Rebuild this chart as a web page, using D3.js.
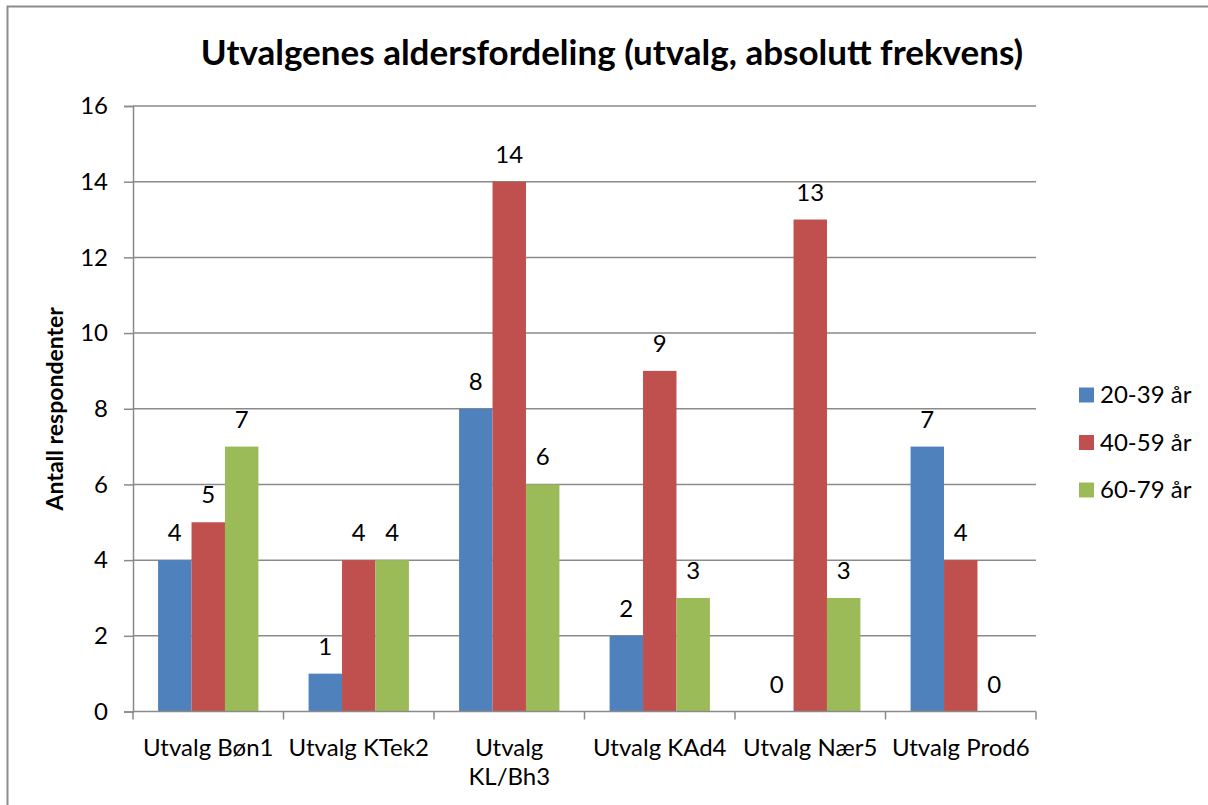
<!DOCTYPE html>
<html>
<head>
<meta charset="utf-8">
<script src="https://cdn.jsdelivr.net/npm/d3@7"></script>
<style>
    body { margin: 0; background: #fff; }
    svg text { font-family: Lato, "Open Sans", sans-serif; fill: #000; }
</style>
</head>
<body>
<svg id="chart" width="1208" height="805"></svg>
<script>
// chart data
const categories = ["Utvalg Bøn1", "Utvalg KTek2", "Utvalg KL/Bh3", "Utvalg KAd4", "Utvalg Nær5", "Utvalg Prod6"];
const seriesNames = ["20-39 år", "40-59 år", "60-79 år"];
const age20to39 = [4, 1, 8, 2, 0, 7];
const age40to59 = [5, 4, 14, 9, 13, 4];
const age60to79 = [7, 4, 6, 3, 3, 0];
const yTicks = [0, 2, 4, 6, 8, 10, 12, 14, 16];
const colors = ["#4F81BD", "#C0504D", "#9BBB59"];

const series = [age20to39, age40to59, age60to79];
const fontSize = "24px";

const svg = d3.select("#chart");

// outer frame (runs off the right/bottom edge like the screenshot)
svg.append("rect")
    .attr("x", 7.5).attr("y", 6.5)
    .attr("width", 1230).attr("height", 830)
    .attr("fill", "none").attr("stroke", "#8c8c8c").attr("stroke-width", 2);

const plot = {left: 133, right: 1036, top: 106, bottom: 711.5};

const x = d3.scaleBand().domain(categories).range([plot.left, plot.right]);
const bw = x.bandwidth();
const xs = d3.scaleBand().domain(d3.range(series.length))
    .range([bw / 6, bw * 5 / 6]);
const y = d3.scaleLinear().domain([0, 16]).range([plot.bottom, plot.top]);

// title
svg.append("text")
    .attr("x", 612).attr("y", 65)
    .attr("text-anchor", "middle")
    .style("font-size", "35px").style("font-weight", "bold")
    .text("Utvalgenes aldersfordeling (utvalg, absolutt frekvens)");

// gridlines
svg.append("g").selectAll("line")
    .data(yTicks.filter(d => d > 0))
    .join("line")
    .attr("x1", plot.left).attr("x2", plot.right)
    .attr("y1", d => y(d)).attr("y2", d => y(d))
    .attr("stroke", "#8a8a8a").attr("stroke-width", 1.5);

// y axis
const yAxis = svg.append("g")
    .attr("transform", `translate(${plot.left},0)`)
    .call(d3.axisLeft(y).tickValues(yTicks).tickSize(9).tickPadding(16));
yAxis.select(".domain").attr("stroke", "#8a8a8a").attr("stroke-width", 1.5);
yAxis.selectAll(".tick line").attr("stroke", "#8a8a8a").attr("stroke-width", 1.5);
yAxis.selectAll(".tick text").style("font-size", fontSize).attr("fill", "#000")
    .style("font-family", "Lato, 'Open Sans', sans-serif");

svg.append("text")
    .attr("transform", `translate(63,${(plot.top + plot.bottom) / 2}) rotate(-90)`)
    .attr("text-anchor", "middle")
    .style("font-size", "23px").style("font-weight", "bold")
    .text("Antall respondenter");

// bars
const groups = svg.append("g").selectAll("g")
    .data(categories)
    .join("g")
    .attr("transform", d => `translate(${x(d)},0)`);

groups.selectAll("rect")
    .data((c, i) => series.map((s, k) => ({k: k, v: s[i]})))
    .join("rect")
    .attr("x", d => xs(d.k))
    .attr("width", xs.bandwidth())
    .attr("y", d => y(d.v))
    .attr("height", d => y(0) - y(d.v))
    .attr("fill", d => colors[d.k]);

groups.selectAll("text.val")
    .data((c, i) => series.map((s, k) => ({k: k, v: s[i]})))
    .join("text")
    .attr("class", "val")
    .attr("x", d => xs(d.k) + xs.bandwidth() / 2)
    .attr("y", d => y(d.v) - 19)
    .attr("text-anchor", "middle")
    .style("font-size", fontSize)
    .text(d => d.v);

// x axis line and boundary ticks
svg.append("line")
    .attr("x1", plot.left).attr("x2", plot.right)
    .attr("y1", plot.bottom).attr("y2", plot.bottom)
    .attr("stroke", "#8a8a8a").attr("stroke-width", 1.5);

const edges = categories.map(c => x(c)).concat([plot.right]);
svg.append("g").selectAll("line")
    .data(edges)
    .join("line")
    .attr("x1", d => d).attr("x2", d => d)
    .attr("y1", plot.bottom).attr("y2", plot.bottom + 8)
    .attr("stroke", "#8a8a8a").attr("stroke-width", 1.5);

// category labels, wrapped when wider than the band
const labels = svg.append("g").selectAll("text")
    .data(categories)
    .join("text")
    .attr("x", d => x(d) + bw / 2)
    .attr("y", 756)
    .attr("text-anchor", "middle")
    .style("font-size", fontSize)
    .text(d => d);

labels.each(function (d) {
    const t = d3.select(this);
    if (this.getComputedTextLength() > bw - 5) {
        const words = d.split(" ");
        t.text(null);
        words.forEach(function (w, i) {
            t.append("tspan")
                .attr("x", x(d) + bw / 2)
                .attr("dy", i === 0 ? 0 : 29)
                .text(w);
        });
    }
});

// legend
const legend = svg.append("g").selectAll("g")
    .data(seriesNames)
    .join("g")
    .attr("transform", (d, i) => `translate(1079,${395 + i * 47.5})`);

legend.append("rect")
    .attr("x", 0).attr("y", -7.5)
    .attr("width", 15).attr("height", 15)
    .attr("fill", (d, i) => colors[i]);

legend.append("text")
    .attr("x", 21).attr("y", 0)
    .attr("dy", "0.35em")
    .style("font-size", fontSize)
    .text(d => d);
</script>
</body>
</html>
